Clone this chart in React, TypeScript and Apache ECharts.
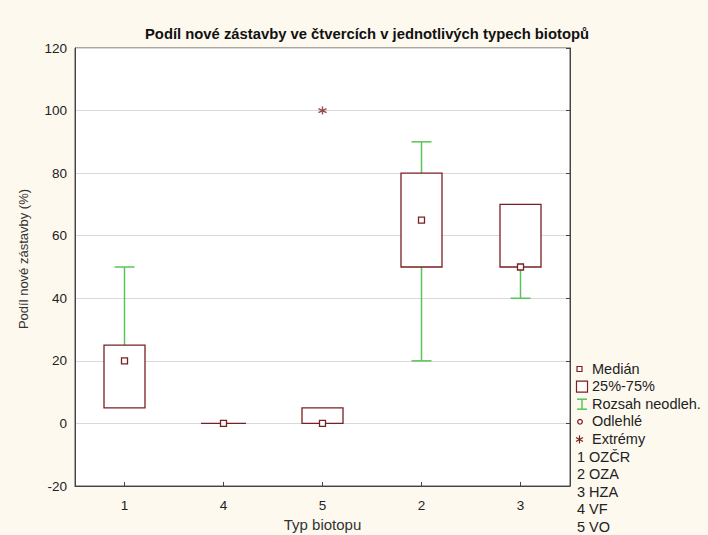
import React, { useEffect, useRef } from "react";
import * as echarts from "echarts";

const categories = ["1", "4", "5", "2", "3"];
// [min whisker, q1, median, q3, max whisker]
const boxStats: number[][] = [
  [5, 5, 20, 25, 50],
  [0, 0, 0, 0, 0],
  [0, 0, 0, 5, 5],
  [20, 50, 65, 80, 90],
  [40, 50, 50, 70, 70],
];
const extremes: [string, number][] = [["5", 100]];
const legendItems = ["Medián", "25%-75%", "Rozsah neodleh.", "Odlehlé", "Extrémy"];
const typeLabels = ["1 OZČR", "2 OZA", "3 HZA", "4 VF", "5 VO"];

const MAROON = "#7a1f22";
const GREEN = "#58c458";
const FONT = "Liberation Sans, Arial, sans-serif";

export default function App() {
  const ref = useRef<HTMLDivElement>(null);
  useEffect(() => {
    if (!ref.current) return;
    const chart = echarts.init(ref.current, undefined, { renderer: "svg" });

    const boxData = boxStats.map((s, i) => [i, ...s]);

    const renderBox = (params: any, api: any) => {
      const idx = api.value(0);
      const mn = api.value(1), q1 = api.value(2), md = api.value(3), q3 = api.value(4), mx = api.value(5);
      const cx = api.coord([idx, 0])[0];
      const y = (v: number) => api.coord([idx, v])[1];
      const bw = 41, cw = 20, ms = 6;
      const children: any[] = [];
      const gline = (x1: number, y1: number, x2: number, y2: number) => ({
        type: "line",
        shape: { x1, y1, x2, y2 },
        style: { stroke: GREEN, lineWidth: 1.5 },
      });
      if (mx > q3) {
        children.push(gline(cx, y(mx), cx, y(q3)));
        children.push(gline(cx - cw / 2, y(mx), cx + cw / 2, y(mx)));
      }
      if (mn < q1) {
        children.push(gline(cx, y(q1), cx, y(mn)));
        children.push(gline(cx - cw / 2, y(mn), cx + cw / 2, y(mn)));
      }
      if (q3 > q1) {
        children.push({
          type: "rect",
          shape: { x: cx - bw / 2, y: y(q3), width: bw, height: y(q1) - y(q3) },
          style: { fill: "#ffffff", stroke: MAROON, lineWidth: 1.3 },
        });
      } else {
        children.push({
          type: "line",
          shape: { x1: cx - bw / 2 - 2, y1: y(q1), x2: cx + bw / 2 + 2, y2: y(q1) },
          style: { stroke: MAROON, lineWidth: 1.3 },
        });
      }
      children.push({
        type: "rect",
        shape: { x: cx - ms / 2, y: y(md) - ms / 2, width: ms, height: ms },
        style: { fill: "#ffffff", stroke: MAROON, lineWidth: 1.3 },
      });
      return { type: "group", children };
    };

    const legendX = 577;
    const legendY0 = 369;
    const step = 17.6;
    const graphics: any[] = [];
    legendItems.forEach((t, i) => {
      graphics.push({
        type: "text",
        left: 592,
        top: legendY0 + i * step - 8,
        style: { text: t, font: `14.5px ${FONT}`, fill: "#222" },
      });
    });
    typeLabels.forEach((t, i) => {
      graphics.push({
        type: "text",
        left: legendX,
        top: legendY0 + (i + 5) * step - 8,
        style: { text: t, font: `14.5px ${FONT}`, fill: "#222" },
      });
    });
    // y axis title
    graphics.push({
      type: "text",
      x: 23,
      y: 259,
      rotation: Math.PI / 2,
      style: {
        text: "Podíl nové zástavby (%)",
        font: `13px ${FONT}`,
        fill: "#333",
        align: "center",
        verticalAlign: "middle",
      },
    });
    // legend icons
    const iy = (i: number) => legendY0 + i * step;
    graphics.push({
      type: "rect",
      shape: { x: 577, y: iy(0) - 2.5, width: 5, height: 5 },
      style: { fill: "#fff", stroke: MAROON, lineWidth: 1.2 },
    });
    graphics.push({
      type: "rect",
      shape: { x: 576.5, y: iy(1) - 5.5, width: 11, height: 11 },
      style: { fill: "#fff", stroke: MAROON, lineWidth: 1.2 },
    });
    graphics.push({
      type: "group",
      children: [
        { type: "line", shape: { x1: 582, y1: iy(2) - 5, x2: 582, y2: iy(2) + 5 }, style: { stroke: GREEN, lineWidth: 1.5 } },
        { type: "line", shape: { x1: 577, y1: iy(2) - 5, x2: 587, y2: iy(2) - 5 }, style: { stroke: GREEN, lineWidth: 1.5 } },
        { type: "line", shape: { x1: 577, y1: iy(2) + 5, x2: 587, y2: iy(2) + 5 }, style: { stroke: GREEN, lineWidth: 1.5 } },
      ],
    });
    graphics.push({
      type: "circle",
      shape: { cx: 580, cy: iy(3), r: 2.3 },
      style: { fill: "#fff", stroke: MAROON, lineWidth: 1.3 },
    });
    const ax = 579.5, ay = iy(4);
    graphics.push({
      type: "group",
      children: [
        { type: "line", shape: { x1: ax, y1: ay - 4, x2: ax, y2: ay + 4 }, style: { stroke: MAROON, lineWidth: 1.2 } },
        { type: "line", shape: { x1: ax - 3.5, y1: ay - 2, x2: ax + 3.5, y2: ay + 2 }, style: { stroke: MAROON, lineWidth: 1.2 } },
        { type: "line", shape: { x1: ax - 3.5, y1: ay + 2, x2: ax + 3.5, y2: ay - 2 }, style: { stroke: MAROON, lineWidth: 1.2 } },
      ],
    });

    chart.setOption({
      animation: false,
      backgroundColor: "#fdf9ef",
      textStyle: { fontFamily: FONT },
      title: {
        text: "Podíl nové zástavby ve čtvercích v jednotlivých typech biotopů",
        left: 362,
        textAlign: "center",
        top: 21,
        textStyle: { fontSize: 14.8, fontWeight: "bold", color: "#111", fontFamily: FONT },
      },
      grid: {
        left: 75,
        right: 138,
        top: 48,
        bottom: 49,
        outerBoundsMode: "none",
        containLabel: false,
        show: true,
        backgroundColor: "#ffffff",
        borderColor: "#555",
        borderWidth: 1,
      },
      xAxis: [
        {
          type: "category",
          data: categories,
          boundaryGap: true,
          name: "Typ biotopu",
          nameLocation: "middle",
          nameGap: 31,
          nameTextStyle: { fontSize: 15, color: "#333" },
          axisLine: { onZero: false, lineStyle: { color: "#444" } },
          axisTick: { show: true, inside: true, alignWithLabel: true, length: 4, lineStyle: { color: "#444" } },
          axisLabel: { fontSize: 13.5, color: "#222", margin: 12 },
          splitLine: { show: false },
        },
      ],
      yAxis: [
        {
          type: "value",
          min: -20,
          max: 120,
          interval: 20,
          axisLine: { show: true, lineStyle: { color: "#444" } },
          axisTick: { show: false },
          axisLabel: { fontSize: 13.5, color: "#222", margin: 8 },
          splitLine: { show: true, lineStyle: { color: "#d9d9d9" } },
        },
        {
          type: "value",
          position: "right",
          min: -20,
          max: 120,
          interval: 20,
          axisLine: { show: true, lineStyle: { color: "#444" } },
          axisTick: { show: true, inside: true, length: 4, lineStyle: { color: "#444" } },
          axisLabel: { show: false },
          splitLine: { show: false },
        },
      ],
      graphic: graphics,
      series: [
        {
          type: "custom",
          renderItem: renderBox,
          data: boxData,
          encode: { x: 0, y: [1, 2, 3, 4, 5] },
          z: 3,
        },
        {
          type: "scatter",
          data: extremes,
          symbol: "path://M5 0 L5 10 M0.7 2.5 L9.3 7.5 M0.7 7.5 L9.3 2.5",
          symbolSize: 8,
          itemStyle: { color: "none", borderColor: MAROON, borderWidth: 1.4 },
          z: 4,
        },
      ],
    });
    return () => chart.dispose();
  }, []);
  return <div ref={ref} style={{ width: 708, height: 535, position: "absolute", left: 0, top: 0 }} />;
}
